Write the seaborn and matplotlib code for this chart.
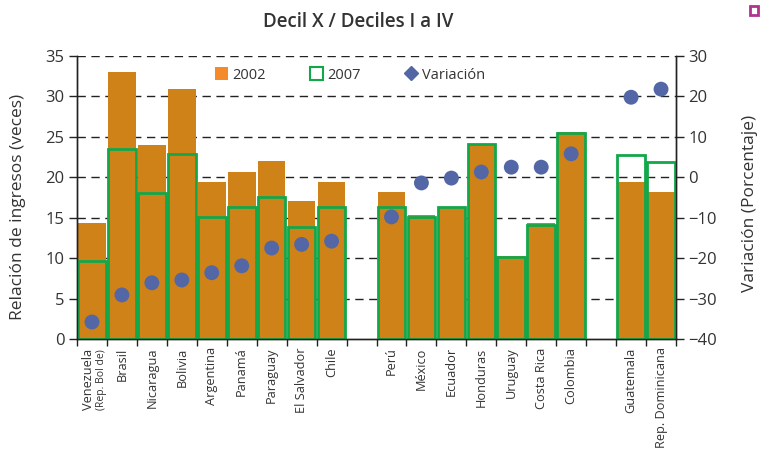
import matplotlib
matplotlib.use("Agg")
import matplotlib.pyplot as plt
import matplotlib.transforms as mtransforms
from matplotlib.patches import Patch, Rectangle
from matplotlib.lines import Line2D
import seaborn as sns
import pandas as pd

# ---- data ----
countries = ["Venezuela (Rep. Bol de)", "Brasil", "Nicaragua", "Bolivia", "Argentina",
             "Panamá", "Paraguay", "El Salvador", "Chile",
             "Perú", "México", "Ecuador", "Honduras", "Uruguay", "Costa Rica", "Colombia",
             "Guatemala", "Rep. Dominicana"]
v2002 = [14.3, 33.0, 24.0, 30.9, 19.4, 20.7, 22.0, 17.1, 19.4,
         18.2, 15.3, 16.3, 24.1, 10.3, 14.3, 25.6,
         19.4, 18.2]
v2007 = [9.6, 23.5, 18.0, 22.9, 15.1, 16.3, 17.6, 13.8, 16.3,
         16.3, 15.1, 16.3, 24.1, 10.2, 14.1, 25.5,
         22.8, 21.9]
variacion = [-35.8, -29.1, -26.1, -25.4, -23.6, -21.9, -17.5, -16.6, -15.8,
             -9.8, -1.4, -0.2, 1.3, 2.5, 2.5, 5.8,
             19.8, 21.8]
order = countries[:9] + [" "] + countries[9:16] + ["  "] + countries[16:]

df = pd.DataFrame({"pais": countries, "v2002": v2002, "v2007": v2007, "var": variacion})
df["pos"] = [order.index(c) for c in countries]

sns.set_theme(style="white")
plt.rcParams["font.family"] = ["Open Sans", "DejaVu Sans"]

ORANGE = "#CF8217"
ORANGE_LEG = "#F58A2A"
GREEN = "#12A84A"
BLUE = "#5367A6"
TXT = "#333333"

fig = plt.figure(figsize=(7.6, 4.58), dpi=100)
ax = fig.add_axes([77 / 760, 1 - 339 / 458, 599 / 760, 283 / 458])

# grid (dashed) behind bars
for yv in range(5, 40, 5):
    ax.axhline(yv, color="#222222", lw=1.0, ls=(0, (6, 4)), zorder=0)

sns.barplot(data=df, x="pais", y="v2002", order=order, color=ORANGE, saturation=1,
            width=0.92, errorbar=None, ax=ax, linewidth=0, zorder=2)
sns.barplot(data=df, x="pais", y="v2007", order=order, color=GREEN, saturation=1,
            width=0.92, errorbar=None, ax=ax, fill=False, linewidth=2.0, zorder=3)

ax.set_xlim(-0.5, 19.5)
ax.set_ylim(0, 35)
ax.set_yticks(range(0, 40, 5))
ax.set_xlabel("")
ax.set_ylabel("")

labels = ["" if c.startswith("Venezuela") else c for c in order]
ax.set_xticks(range(len(order)))
ax.set_xticklabels(labels, rotation=90, fontsize=9.2, color=TXT, va="top")
ax.set_xticks([i - 0.5 for i in range(len(order) + 1)], minor=True)
ax.tick_params(axis="x", which="major", length=0, pad=6)
ax.tick_params(axis="x", which="minor", length=5, width=1, color="#222222", direction="out", bottom=True)
ax.tick_params(axis="y", which="major", length=6, width=1, color="#222222", direction="out",
               left=True, labelsize=12, labelcolor=TXT, pad=3)

trans = mtransforms.blended_transform_factory(ax.transData, ax.transAxes)
ax.text(-0.12, -0.035, "Venezuela", transform=trans, rotation=90, ha="center", va="top",
        fontsize=9.2, color=TXT)
ax.text(0.33, -0.035, "(Rep. Bol de)", transform=trans, rotation=90, ha="center", va="top",
        fontsize=7.5, color=TXT)

for s in ["left", "bottom", "right"]:
    ax.spines[s].set_visible(True)
    ax.spines[s].set_color("#222222")
    ax.spines[s].set_linewidth(1)
ax.spines["top"].set_visible(False)

ax2 = ax.twinx()
sns.scatterplot(data=df, x="pos", y="var", ax=ax2, color=BLUE, s=115, edgecolor="none",
                zorder=5, legend=False)
ax2.set_ylim(-40, 30)
ax2.set_yticks(range(-40, 40, 10))
ax2.set_xlim(-0.5, 19.5)
ax2.set_ylabel("")
ax2.set_xlabel("")
ax2.tick_params(axis="y", which="major", length=6, width=1, color="#222222", direction="out",
                right=True, labelsize=12, labelcolor=TXT, pad=3)
for s in ["left", "bottom", "right"]:
    ax2.spines[s].set_color("#222222")
    ax2.spines[s].set_linewidth(1)
ax2.spines["top"].set_visible(False)

handles = [Patch(facecolor=ORANGE_LEG, edgecolor="none", label="2002"),
           Patch(facecolor="white", edgecolor=GREEN, linewidth=1.5, label="2007"),
           Line2D([], [], marker="D", color=BLUE, ls="none", markersize=7, label="Variación")]
ax2.legend(handles=handles, loc="center", bbox_to_anchor=(0.456, 0.933), ncol=3,
           frameon=False, fontsize=10.5, handlelength=0.9, handleheight=0.9,
           columnspacing=3.0, handletextpad=0.3, labelcolor=TXT)

fig.text(358 / 760, 1 - 22 / 458, "Decil X / Deciles I a IV", ha="center", va="center",
         fontsize=13.5, fontweight="semibold", color=TXT)
fig.text(18 / 760, 1 - 207 / 458, "Relación de ingresos (veces)", rotation=90,
         ha="center", va="center", fontsize=12.5, color=TXT)
fig.text(750 / 760, 1 - 203 / 458, "Variación (Porcentaje)", rotation=90,
         ha="center", va="center", fontsize=12.5, color=TXT)

fig.add_artist(Rectangle((750 / 760, 1 - 15 / 458), 8 / 760, 9 / 458,
                         transform=fig.transFigure, fill=False, edgecolor="#B0338E", lw=2))

fig.savefig("out.png", dpi=100)
